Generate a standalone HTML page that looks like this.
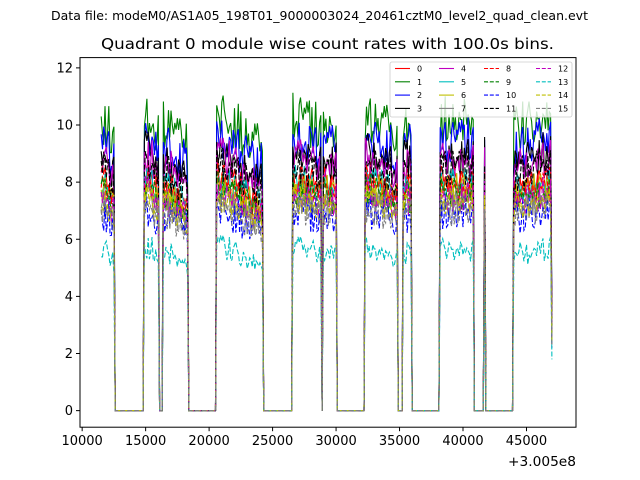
<!DOCTYPE html>
<html><head><meta charset="utf-8">
<style>
body{margin:0;background:#fff;}
svg{display:block;font-family:"DejaVu Sans","Liberation Sans",sans-serif;}
</style></head>
<body>
<svg id="chart" width="640" height="480" viewBox="0 0 640 480" xmlns="http://www.w3.org/2000/svg">
<rect x="0" y="0" width="640" height="480" fill="#fff"/>
<text x="51" y="20" font-size="12" textLength="537" lengthAdjust="spacingAndGlyphs">Data file: modeM0/AS1A05_198T01_9000003024_20461cztM0_level2_quad_clean.evt</text>
<text x="101" y="49" font-size="15" textLength="453" lengthAdjust="spacingAndGlyphs">Quadrant 0 module wise count rates with 100.0s bins.</text>
<g id="series"></g>
<rect x="80" y="57.6" width="496" height="369.6" fill="none" stroke="#000" stroke-width="1"/>
<g id="axes"></g>
<g id="legend"></g>
</svg>
<script>
// ---- data ----
const channels = ["0","1","2","3","4","5","6","7","8","9","10","11","12","13","14","15"];
const colors = ["#ff0000","#008000","#0000ff","#000000","#bf00bf","#00bfbf","#bfbf00","#808080","#ff0000","#008000","#0000ff","#000000","#bf00bf","#00bfbf","#bfbf00","#808080"];
const levels = [8.0,10.1,9.4,8.9,8.7,7.9,7.7,7.3,7.9,7.6,6.9,8.5,7.5,5.6,7.3,7.0];
const segStarts = [11500,14900,16400,20600,26600,29000,32300,35300,38200,41700,44000];
const segEnds   = [12500,16000,18300,24200,28800,30000,34800,35900,40800,41700,46900];
const segFactorStart = [1.02,1.04,1.0,1.04,1.03,1.0,1.02,1.0,1.0,1.0,0.97];
const segFactorEnd   = [0.93,0.97,0.9,0.9,0.97,0.97,0.96,0.98,1.0,1.0,1.02];
const jitter = [0.3,-0.5,0.1,0.8,-0.2,-0.7,0.4,0.0,-0.3,0.9,-0.6,0.2,0.5,-0.9,0.1,-0.1,0.7,-0.4,0.3,-0.8,0.6,0.0,-0.2,0.4,-0.5,1.0,-0.3,0.2,-0.7,0.5,0.1,-0.6,0.8,-0.1,0.3,-0.9,0.2,0.6,-0.4,0.0,0.9,-0.5,-0.2,0.4,0.7,-0.8,0.1,-0.3,0.5,-0.6,0.2,0.8,-0.1,-0.7,0.3,0.6,-0.4,0.0,-0.9,0.4,0.5,-0.2,0.1];
const noiseAmp = [0.35,0.45,0.45,0.4,0.4,0.35,0.35,0.35,0.35,0.35,0.4,0.4,0.35,0.3,0.35,0.35];
const xStart = 11500, xEnd = 47000, binSize = 100, lastValueFactor = 0.32;
const xTicks = [10000,15000,20000,25000,30000,35000,40000,45000];
const yTicks = [0,2,4,6,8,10,12];
// ---- scales ----
const X0=80,X1=576,Y0=57.6,Y1=427.2;
const xmin=9830, xmax=48900, ymin=-0.58, ymax=12.36;
const xs = v => X0 + (v-xmin)/(xmax-xmin)*(X1-X0);
const ys = v => Y1 - (v-ymin)/(ymax-ymin)*(Y1-Y0);
const NS="http://www.w3.org/2000/svg";
function value(ch, t, idx){
  for(let s=0;s<segStarts.length;s++){
    if(t>=segStarts[s] && t<=segEnds[s]){
      const span = segEnds[s]-segStarts[s];
      const f = span>0 ? (t-segStarts[s])/span : 0;
      const fac = segFactorStart[s] + (segFactorEnd[s]-segFactorStart[s])*f;
      const j = jitter[(idx*3 + ch*7 + Math.floor(idx/11)) % jitter.length];
      return levels[ch]*fac + j*noiseAmp[ch]*(1+levels[ch]/10);
    }
  }
  if(t===xEnd) return levels[ch]*lastValueFactor;
  return 0;
}
const sg=document.getElementById('series');
channels.forEach((name,ch)=>{
  let d="";
  let idx=0;
  for(let t=xStart;t<=xEnd;t+=binSize,idx++){
    const v=value(ch,t,idx);
    d+=(idx?"L":"M")+xs(t).toFixed(1)+","+ys(v).toFixed(1);
  }
  const p=document.createElementNS(NS,'path');
  p.setAttribute('d',d);
  p.setAttribute('fill','none');
  p.setAttribute('stroke',colors[ch]);
  p.setAttribute('stroke-width','1.1');
  if(ch>=8) p.setAttribute('stroke-dasharray','5,2');
  
  
  sg.appendChild(p);
});
// ---- axes ----
const ag=document.getElementById('axes');
xTicks.forEach(v=>{
  const x=xs(v);
  const l=document.createElementNS(NS,'line');
  l.setAttribute('x1',x);l.setAttribute('x2',x);l.setAttribute('y1',Y1);l.setAttribute('y2',Y1+4);
  l.setAttribute('stroke','#000');
  
  
  ag.appendChild(l);
  const t=document.createElementNS(NS,'text');
  t.setAttribute('x',x);t.setAttribute('y',Y1+18);t.setAttribute('font-size','13');t.setAttribute('text-anchor','middle');
  t.textContent=v;
  
  
  ag.appendChild(t);
});
yTicks.forEach(v=>{
  const y=ys(v);
  const l=document.createElementNS(NS,'line');
  l.setAttribute('x1',X0-4);l.setAttribute('x2',X0);l.setAttribute('y1',y);l.setAttribute('y2',y);
  l.setAttribute('stroke','#000');
  
  
  ag.appendChild(l);
  const t=document.createElementNS(NS,'text');
  t.setAttribute('x',X0-7);t.setAttribute('y',y+4.5);t.setAttribute('font-size','13');t.setAttribute('text-anchor','end');
  t.textContent=v;
  
  
  ag.appendChild(t);
});
const off=document.createElementNS(NS,'text');
off.setAttribute('x',508);off.setAttribute('y',466);off.setAttribute('font-size','13');
off.setAttribute('textLength','68');off.setAttribute('lengthAdjust','spacingAndGlyphs');
off.textContent='+3.005e8';


ag.appendChild(off);
// ---- legend ----
const lg=document.getElementById('legend');
const box=document.createElementNS(NS,'rect');
box.setAttribute('x',390);box.setAttribute('y',62);box.setAttribute('width',182);box.setAttribute('height',55);
box.setAttribute('rx',2);box.setAttribute('fill','#fff');box.setAttribute('fill-opacity','0.8');box.setAttribute('stroke','#ccc');box.setAttribute('stroke-width','0.8');


lg.appendChild(box);
const colX=[395,439,484,536];
channels.forEach((name,ch)=>{
  const c=Math.floor(ch/4), r=ch%4;
  const y=68.5+r*13.3, x=colX[c];
  const l=document.createElementNS(NS,'line');
  l.setAttribute('x1',x);l.setAttribute('x2',x+15);l.setAttribute('y1',y);l.setAttribute('y2',y);
  l.setAttribute('stroke',colors[ch]);l.setAttribute('stroke-width','1.1');
  if(ch>=8) l.setAttribute('stroke-dasharray','4,1.8');
  
  
  lg.appendChild(l);
  const t=document.createElementNS(NS,'text');
  t.setAttribute('x',x+22);t.setAttribute('y',y+3);t.setAttribute('font-size','8');
  t.textContent=name;
  
  
  lg.appendChild(t);
});
</script>
</body></html>
